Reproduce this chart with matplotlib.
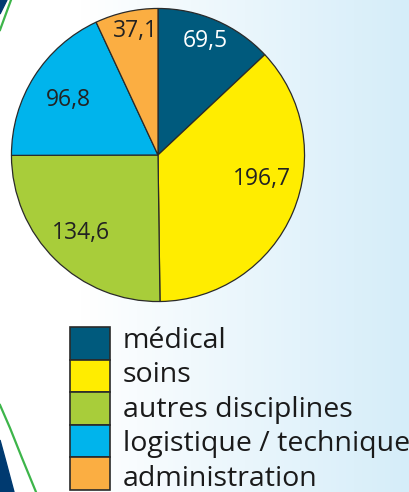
import numpy as np
import matplotlib
matplotlib.use("Agg")
import matplotlib.pyplot as plt
from matplotlib.patches import Rectangle, Polygon

categories = ["médical", "soins", "autres disciplines", "logistique / technique", "administration"]
values = [69.5, 196.7, 134.6, 96.8, 37.1]
value_labels = ["69,5", "196,7", "134,6", "96,8", "37,1"]
colors = ["#005A7D", "#FFED00", "#A8CD3A", "#00B4EC", "#FBAE42"]
label_colors = ["white", "#222222", "#222222", "#222222", "#222222"]

# layout (not data)
label_dist = [0.84, 0.73, 0.75, 0.72, 0.86]
label_angle_shift = [1, 10, 0, 1, -2]

W, H = 409, 492
fig = plt.figure(figsize=(W / 100, H / 100), dpi=100)
plt.rcParams['font.family'] = ['Open Sans', 'DejaVu Sans']

# background
bg = fig.add_axes([0, 0, 1, 1])
bg.set_xlim(0, W)
bg.set_ylim(H, 0)
bg.axis('off')
x = np.linspace(0, 1, 400)
t = np.clip((x - 0.2) / 0.8, 0, 1)
c0 = np.array([1.0, 1.0, 1.0])
c1 = np.array([0xD5, 0xED, 0xF9]) / 255
grad = (c0[None, :] * (1 - t[:, None]) + c1[None, :] * t[:, None])[None, :, :]
bg.imshow(grad, extent=[0, W, H, 0], aspect='auto', zorder=0)
# decorations
bg.add_patch(Polygon([(0, 0), (7, 0), (0, 14)], closed=True, color="#003A70", zorder=1))
bg.plot([11, 0], [0, 30], color="#3DB54A", lw=1.6, zorder=1)
bg.add_patch(Polygon([(0, 440), (6, 462), (14, 492), (0, 492)], closed=True, color="#003A70", zorder=1))
bg.plot([0, 10, 22, 36], [405, 428, 458, 492], color="#3DB54A", lw=1.6, zorder=1)

# pie
cx, cy, r = 158, 155, 148
ax = fig.add_axes([(cx - r) / W, 1 - (cy + r) / H, 2 * r / W, 2 * r / H])
wedges, _ = ax.pie(values, colors=colors, startangle=90, counterclock=False,
                   wedgeprops=dict(edgecolor="#2a2a2a", linewidth=0.9))
ax.set_xlim(-1.01, 1.01)
ax.set_ylim(-1.01, 1.01)
ax.set_aspect('equal')
for w, lab, lc, d, sh in zip(wedges, value_labels, label_colors, label_dist, label_angle_shift):
    ang = np.deg2rad((w.theta1 + w.theta2) / 2 + sh)
    ax.text(d * np.cos(ang), d * np.sin(ang), lab, ha='center', va='center',
            fontsize=16.5, color=lc)

# legend
x0, wbox, hbox, y0 = 70, 40, 32.5, 327
text_y0, text_step = 348, 34.4
for i, (cat, col) in enumerate(zip(categories, colors)):
    yt = y0 + i * hbox
    bg.add_patch(Rectangle((x0, yt), wbox, hbox, facecolor=col, edgecolor="#2a2a2a",
                           linewidth=1.2, zorder=3))
    bg.text(123, text_y0 + i * text_step, cat, fontsize=20.5, color="#1a1a1a",
            ha='left', va='baseline', zorder=3)

fig.savefig("out.png", dpi=100)
